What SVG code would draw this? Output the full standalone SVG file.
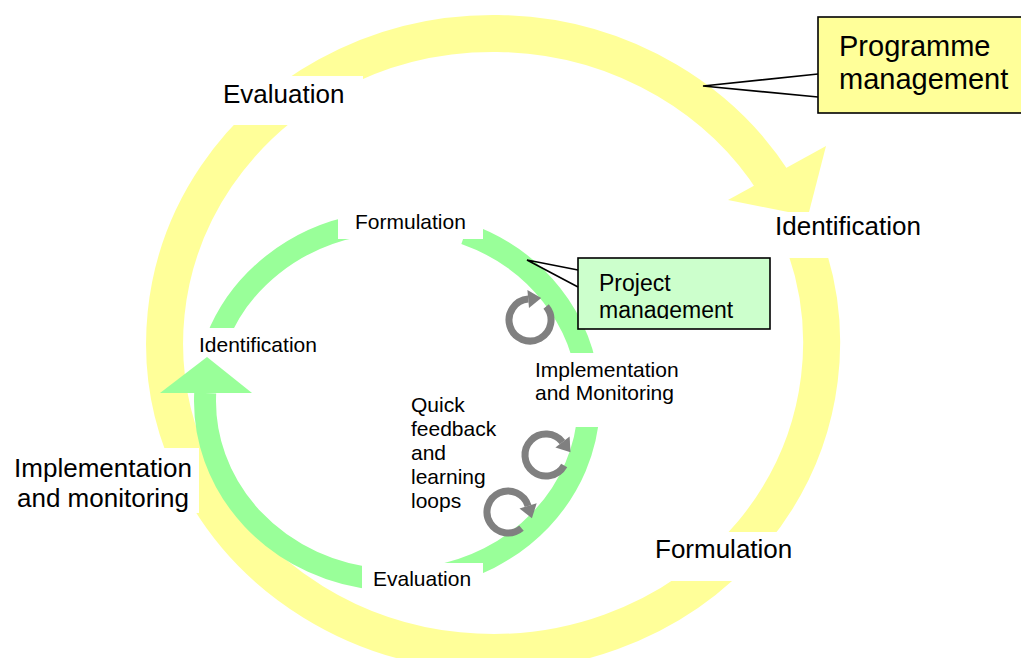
<svg xmlns="http://www.w3.org/2000/svg" width="1021" height="658" viewBox="0 0 1021 658">
<defs>
<style>
.yring{fill:none;stroke:#FFFF99;stroke-width:37}
.yhead{fill:#FFFF99}
.gring{fill:none;stroke:#99FF99;stroke-width:22}
.ghead{fill:#99FF99}
.mask{fill:#FFFFFF}
.loop{fill:none;stroke:#808080;stroke-width:7}
.loophead{fill:#808080}
.big{font-family:"Liberation Sans",Arial,Helvetica,sans-serif;font-size:26px;fill:#000}
.small{font-family:"Liberation Sans",Arial,Helvetica,sans-serif;font-size:21px;fill:#000}
.call{stroke:#000;stroke-width:1.6}
.ptr{fill:none;stroke:#000;stroke-width:1.6;stroke-linejoin:miter}
</style>
<clipPath id="pmclip"><rect x="578" y="258" width="192" height="61"/></clipPath>
</defs>
<rect width="1021" height="658" fill="#FFFFFF"/>

<g id="connectors">
  <!-- programme cycle (yellow) -->
  <path class="yring" d="M 801 235 A 328.5 309.5 0 1 1 775 184"/>
  <polygon class="yhead" points="728,200 826,146 808,216"/>
  <!-- masks behind programme-level labels -->
  <rect class="mask" x="210" y="76" width="153" height="49"/>
  <rect class="mask" x="760" y="212" width="175" height="46"/>
  <rect class="mask" x="640" y="532" width="160" height="49"/>
  <rect class="mask" x="0" y="448" width="199" height="65"/>
  <!-- project cycle (green) -->
  <path class="gring" d="M 380 579.3 A 192 179 0 0 1 205.2 393"/>
  <polygon class="ghead" points="160,393 252,393 207,357"/>
  <path class="gring" d="M 216.5 340 A 192 179 0 0 1 360 225.4"/>
  <path class="gring" d="M 465 233.6 A 192 179 0 0 1 588.6 390"/>
  <path class="gring" d="M 588.8 410 A 192 179 0 0 1 430 577.3"/>
  <!-- masks behind project-level labels -->
  <rect class="mask" x="338" y="200" width="145" height="39"/>
  <rect class="mask" x="195" y="328" width="130" height="28"/>
  <rect class="mask" x="530" y="353" width="155" height="74"/>
  <rect class="mask" x="362" y="563" width="121" height="37"/>
  <!-- quick feedback loops -->
  <path class="loop" d="M 546.1 306.5 A 21 21 0 1 1 528.2 299.1"/>
  <polygon class="loophead" points="527.4,290.1 529,308.1 541.2,298"/>
  <path class="loop" d="M 564.2 465.5 A 21 21 0 1 1 562.5 442.1"/>
  <polygon class="loophead" points="569.6,436.6 555.4,447.6 570.5,452.3"/>
  <path class="loop" d="M 521.5 528.1 A 21 21 0 1 1 528.1 505.9"/>
  <polygon class="loophead" points="536.7,503.3 519.5,508.5 531.9,518.3"/>
</g>

<g id="prog-evaluation"><text class="big" x="223" y="103">Evaluation</text></g>
<g id="prog-identification"><text class="big" x="775" y="235">Identification</text></g>
<g id="prog-formulation"><text class="big" x="655" y="558">Formulation</text></g>
<g id="prog-implementation"><text class="big" text-anchor="middle" x="103" y="477">Implementation<tspan x="103" y="507">and monitoring</tspan></text></g>

<g id="proj-formulation"><text class="small" x="355" y="229">Formulation</text></g>
<g id="proj-identification"><text class="small" x="199" y="352">Identification</text></g>
<g id="proj-implementation"><text class="small" x="535" y="377">Implementation<tspan x="535" y="400">and Monitoring</tspan></text></g>
<g id="proj-evaluation"><text class="small" x="373" y="586">Evaluation</text></g>
<g id="quick-loops"><text class="small" x="411" y="411.5">Quick<tspan x="411" y="435.7">feedback</tspan><tspan x="411" y="460">and</tspan><tspan x="411" y="484.2">learning</tspan><tspan x="411" y="508.4">loops</tspan></text></g>

<g id="programme-management">
  <rect class="call" x="818" y="17" width="210" height="96" fill="#FFFF99"/>
  <polyline class="ptr" points="818,74 703,86 818,97"/>
  <text class="big" style="font-size:29px" x="839" y="56">Programme<tspan x="839" y="89">management</tspan></text>
</g>

<g id="project-management">
  <rect class="call" x="578" y="258" width="192" height="71" fill="#CCFFCC"/>
  <polyline class="ptr" points="578,270 527,260 578,287"/>
  <text class="small" style="font-size:23px" x="599" y="291" clip-path="url(#pmclip)">Project<tspan x="599" y="318">management</tspan></text>
</g>
</svg>
